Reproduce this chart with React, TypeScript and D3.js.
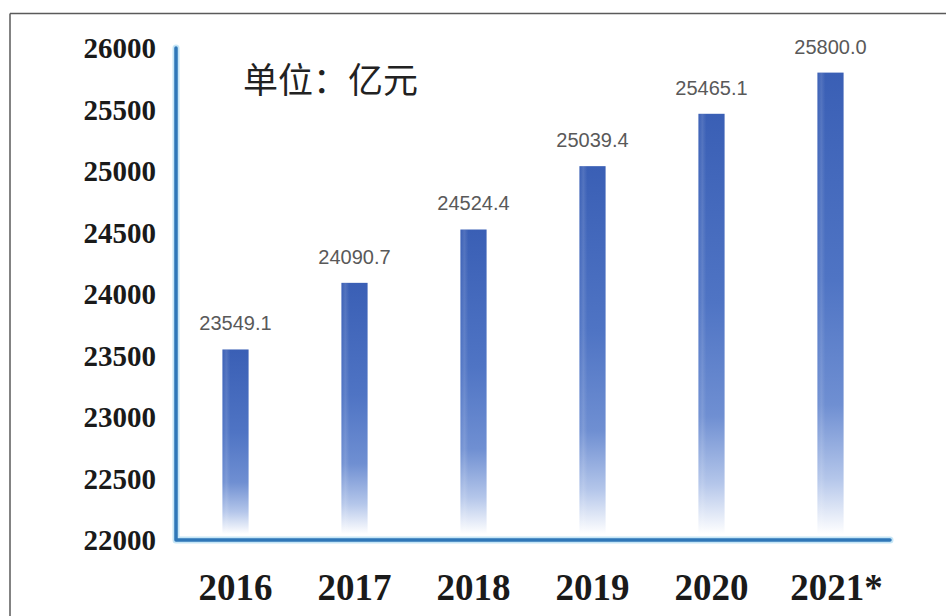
import React from "react";
import * as d3 from "d3";

const years = ["2016", "2017", "2018", "2019", "2020", "2021*"];
const values = [23549.1, 24090.7, 24524.4, 25039.4, 25465.1, 25800.0];
const yTicks = [22000, 22500, 23000, 23500, 24000, 24500, 25000, 25500, 26000];
const unitLabel = "单位：亿元";

const W = 946;
const H = 616;

export default function App() {
  const x = d3
    .scaleBand<string>()
    .domain(years)
    .range([176, 890])
    .paddingInner(0.78)
    .paddingOuter(0.39);
  const y = d3.scaleLinear().domain([22000, 26000]).range([540, 48]);

  const axisPath = `M${x.range()[0]},${y(26000)} L${x.range()[0]},${y(22000)} L${x.range()[1]},${y(22000)}`;

  return (
    <svg
      width={W}
      height={H}
      style={{ position: "absolute", left: 0, top: 0, background: "#fff" }}
    >
      <defs>
        <linearGradient id="barGrad" x1="0" y1="0" x2="0" y2="1">
          <stop offset="0" stopColor="#3a5fb5" />
          <stop offset="0.45" stopColor="#4f74c4" />
          <stop offset="0.72" stopColor="#6f8fd2" />
          <stop offset="0.88" stopColor="#b4c6ea" />
          <stop offset="1" stopColor="#ffffff" />
        </linearGradient>
        <linearGradient id="barShine" x1="0" y1="0" x2="1" y2="0">
          <stop offset="0" stopColor="#ffffff" stopOpacity="0" />
          <stop offset="0.15" stopColor="#ffffff" stopOpacity="0.12" />
          <stop offset="0.3" stopColor="#ffffff" stopOpacity="0" />
          <stop offset="1" stopColor="#ffffff" stopOpacity="0" />
        </linearGradient>
      </defs>

      {/* frame (top and left only) */}
      <line x1={10} y1={13.5} x2={W} y2={13.5} stroke="#5a5a5a" strokeWidth={1.5} />
      <line x1={10} y1={13.5} x2={10} y2={H} stroke="#5a5a5a" strokeWidth={1.5} />

      {/* unit label */}
      <text
        x={243}
        y={77}
        fontFamily="'Noto Sans CJK SC', sans-serif"
        fontSize={35}
        fill="#222"
        dominantBaseline="central"
      >
        {unitLabel}
      </text>

      {/* bars */}
      {values.map((v, i) => (
        <g key={years[i]}>
          <rect
            x={x(years[i])}
            y={y(v)}
            width={x.bandwidth()}
            height={y(22000) - y(v) - 6}
            fill="url(#barGrad)"
          />
          <rect
            x={x(years[i])}
            y={y(v)}
            width={x.bandwidth()}
            height={y(22000) - y(v) - 6}
            fill="url(#barShine)"
          />
          <text
            x={(x(years[i]) as number) + x.bandwidth() / 2}
            y={y(v) - 19}
            textAnchor="middle"
            fontFamily="'Liberation Sans', Arial, sans-serif"
            fontSize={20}
            fill="#595959"
          >
            {v.toFixed(1)}
          </text>
        </g>
      ))}

      {/* axes */}
      <path d={axisPath} fill="none" stroke="#c6e6f6" strokeWidth={7} strokeLinejoin="round" strokeLinecap="round" />
      <path d={axisPath} fill="none" stroke="#2f77b8" strokeWidth={3.5} strokeLinejoin="round" strokeLinecap="round" />

      {/* y tick labels */}
      {yTicks.map((t) => (
        <text
          key={t}
          x={156}
          y={y(t)}
          textAnchor="end"
          dominantBaseline="central"
          fontFamily="'Liberation Serif', 'Times New Roman', serif"
          fontWeight="bold"
          fontSize={29}
          fill="#1a1a1a"
        >
          {t}
        </text>
      ))}

      {/* x labels */}
      {years.map((yr) => (
        <text
          key={yr}
          x={(x(yr) as number) + x.bandwidth() / 2 + (yr.endsWith("*") ? 6 : 0)}
          y={600}
          textAnchor="middle"
          fontFamily="'Liberation Serif', 'Times New Roman', serif"
          fontWeight="bold"
          fontSize={37}
          fill="#1a1a1a"
        >
          {yr}
        </text>
      ))}
    </svg>
  );
}
